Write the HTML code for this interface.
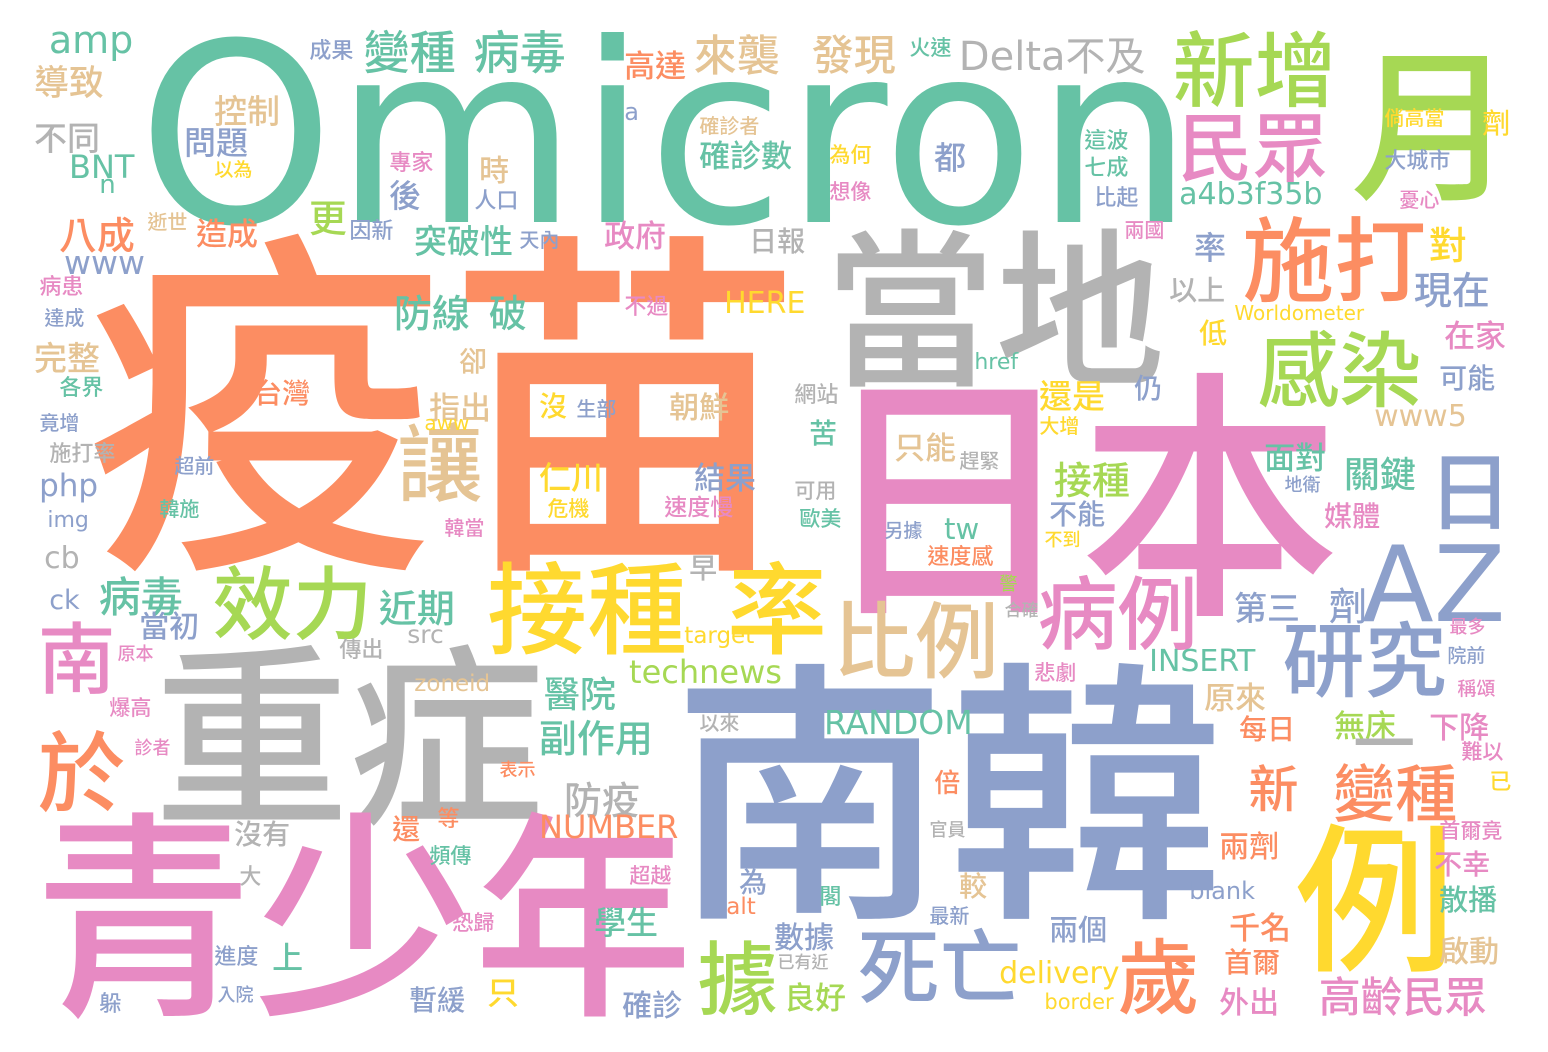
<!DOCTYPE html>
<html>
<head>
<meta charset="utf-8">
<style>
html,body{margin:0;padding:0;background:#fff;}
#cloud{position:relative;width:1548px;height:1052px;overflow:hidden;background:#fff;}
#cloud div{position:absolute;white-space:nowrap;line-height:1;}
.cjk{font-family:"Noto Sans CJK TC","WenQuanYi Zen Hei",sans-serif;font-weight:500;}
.lat{font-family:"DejaVu Sans","Liberation Sans","Noto Sans CJK TC",sans-serif;}
</style>
</head>
<body>
<div id="cloud"></div>
<script>
const palette = ["#66c2a5","#fc8d62","#8da0cb","#e78ac3","#a6d854","#ffd92f","#e5c494","#b3b3b3"];
// [text, x, y, size, colorIndex, latin]
const words = [
["Omicron",145,40,250,0,1],
["疫苗",95,228,360,1,0],
["日本",825,368,262,3,0],
["南韓",680,658,276,2,0],
["重症",160,642,195,7,0],
["青少年",40,808,220,3,0],
["當地",830,225,170,7,0],
["月",1355,45,165,4,0],
["例",1300,820,160,5,0],
["接種",490,560,100,5,0],
["率",730,560,100,5,0],
["新增",1175,30,82,4,0],
["民眾",1180,110,75,3,0],
["施打",1245,215,92,1,0],
["感染",1260,330,82,4,0],
["日",1430,450,85,2,0],
["AZ",1365,545,105,2,1],
["研究",1285,620,82,2,0],
["病例",1040,575,80,3,0],
["比例",835,600,83,6,0],
["效力",215,565,80,4,0],
["讓",400,422,85,6,0],
["據",700,940,80,4,0],
["死亡",860,927,82,2,0],
["歲",1120,937,82,1,0],
["於",40,730,88,1,0],
["南",40,620,78,3,0],
["變種",365,30,46,0,0],
["病毒",475,30,46,0,0],
["來襲",695,35,43,6,0],
["發現",813,35,42,6,0],
["Delta不及",960,42,40,7,1],
["amp",50,25,38,0,1],
["導致",35,65,35,6,0],
["成果",310,40,22,2,0],
["高達",625,50,31,1,0],
["火速",910,38,21,0,0],
["控制",215,95,33,6,0],
["問題",185,127,32,2,0],
["不同",35,122,33,7,0],
["BNT",70,155,32,0,1],
["以為",215,160,19,5,0],
["n",100,175,26,0,1],
["專家",390,152,22,3,0],
["a",625,103,24,2,1],
["時",480,155,30,6,0],
["後",390,180,32,2,0],
["人口",475,190,22,2,0],
["確診者",700,116,20,6,0],
["確診數",700,140,31,0,0],
["為何",830,145,21,5,0],
["都",935,142,32,2,0],
["想像",830,182,21,3,0],
["這波",1085,130,22,0,0],
["七成",1085,157,22,0,0],
["比起",1095,187,22,2,0],
["a4b3f35b",1180,183,30,0,1],
["倘高當",1385,108,20,5,0],
["劑",1483,110,28,5,0],
["大城市",1385,150,22,2,0],
["憂心",1400,190,20,3,0],
["更",310,200,38,4,0],
["因新",350,220,22,2,0],
["突破性",415,225,33,0,0],
["天內",520,230,20,2,0],
["政府",605,220,31,3,0],
["八成",60,217,38,1,0],
["逝世",148,212,20,6,0],
["造成",197,218,31,1,0],
["www",65,250,33,2,1],
["病患",40,276,22,3,0],
["日報",750,228,28,7,0],
["兩國",1125,220,20,3,0],
["率",1195,232,32,2,0],
["對",1430,227,38,5,0],
["現在",1415,272,38,2,0],
["以上",1170,277,28,7,0],
["防線",395,295,38,0,0],
["破",490,295,38,0,0],
["不過",625,296,22,3,0],
["HERE",725,292,30,5,1],
["Worldometer",1235,305,20,5,1],
["達成",45,308,20,2,0],
["完整",35,342,33,6,0],
["卻",460,348,28,6,0],
["href",975,355,22,0,1],
["低",1200,320,28,5,0],
["在家",1445,320,31,3,0],
["還是",1040,380,33,5,0],
["仍",1135,375,28,2,0],
["可能",1440,365,28,2,0],
["各界",60,377,22,0,0],
["台灣",255,380,28,1,0],
["網站",795,384,22,7,0],
["指出",430,392,31,6,0],
["aww",425,415,20,5,1],
["竟增",40,413,20,2,0],
["苦",810,420,28,0,0],
["www5",1375,405,30,6,1],
["施打率",50,443,22,7,0],
["超前",175,456,20,2,0],
["只能",895,432,31,6,0],
["趕緊",960,451,20,7,0],
["接種",1055,462,38,4,0],
["面對",1265,442,31,0,0],
["關鍵",1345,457,36,0,0],
["地衛",1285,476,18,2,0],
["php",40,475,31,2,1],
["韓施",160,499,20,0,0],
["可用",795,481,21,7,0],
["不能",1050,501,28,2,0],
["媒體",1325,503,28,3,0],
["img",48,513,22,2,1],
["韓當",445,518,20,3,0],
["歐美",800,509,21,0,0],
["另據",885,521,19,2,0],
["tw",945,518,29,0,1],
["不到",1045,531,18,5,0],
["cb",45,547,30,7,1],
["早",690,555,28,7,0],
["第三",1235,592,33,2,0],
["劑",1330,588,38,2,0],
["病毒",100,577,42,0,0],
["當初",140,611,30,2,0],
["ck",50,590,27,2,1],
["近期",380,590,38,0,0],
["target",685,628,23,5,1],
["傳出",340,639,22,7,0],
["src",408,625,25,7,1],
["警",1000,575,18,4,0],
["合確",1005,601,17,7,0],
["最多",1450,618,18,3,0],
["原本",118,645,18,3,0],
["院前",1448,646,19,2,0],
["醫院",545,677,36,0,0],
["technews",630,660,32,4,1],
["zoneid",415,676,23,6,1],
["悲劇",1035,663,21,3,0],
["INSERT",1150,650,30,0,1],
["原來",1205,682,31,6,0],
["稱頌",1458,679,19,3,0],
["爆高",110,698,21,3,0],
["副作用",540,720,38,0,0],
["以來",700,713,20,7,0],
["RANDOM",825,710,33,0,1],
["每日",1240,716,28,1,0],
["無床",1335,710,31,4,0],
["下降",1430,712,30,3,0],
["一",1355,712,62,7,0],
["診者",135,739,18,3,0],
["難以",1462,742,21,3,0],
["表示",500,761,18,1,0],
["新",1250,764,50,1,0],
["變種",1335,762,62,1,0],
["防疫",565,782,38,7,0],
["倍",935,771,26,1,0],
["已",1490,771,22,5,0],
["NUMBER",540,815,32,1,1],
["沒有",235,821,28,7,0],
["還",393,816,28,1,0],
["等",438,808,22,1,0],
["官員",930,821,18,7,0],
["首爾竟",1440,821,21,3,0],
["兩劑",1220,831,30,1,0],
["頻傳",430,846,21,0,0],
["不幸",1435,851,28,3,0],
["大",240,866,22,7,0],
["為",740,869,28,2,0],
["較",960,873,28,6,0],
["超越",630,866,21,3,0],
["blank",1190,882,24,2,1],
["散播",1440,886,29,0,0],
["恐歸",453,913,21,3,0],
["alt",727,899,23,1,1],
["閣",820,886,22,0,0],
["學生",595,907,32,0,0],
["最新",930,906,20,2,0],
["千名",1230,912,31,1,0],
["兩個",1050,916,29,2,0],
["數據",775,922,30,2,0],
["進度",215,946,22,2,0],
["上",273,942,31,0,0],
["已有近",778,953,17,7,0],
["首爾",1225,949,28,1,0],
["啟動",1440,936,30,6,0],
["delivery",1000,962,30,5,1],
["入院",218,986,18,2,0],
["暫緩",410,987,28,2,0],
["只",488,977,32,5,0],
["良好",785,982,31,4,0],
["確診",623,990,30,2,0],
["外出",1220,987,30,3,0],
["高齡民眾",1320,977,42,3,0],
["border",1045,994,21,5,1],
["躲",100,993,22,2,0],
["沒",540,393,28,5,0],
["生部",577,399,20,2,0],
["朝鮮",670,392,30,6,0],
["仁川",540,462,32,5,0],
["危機",548,499,21,5,0],
["結果",695,462,31,2,0],
["速度慢",665,496,23,3,0],
["速度感",928,546,22,1,0],
["大增",1040,416,20,5,0]
];
const cloud = document.getElementById('cloud');
words.forEach(function(w){
  const el = document.createElement('div');
  
  
  el.className = w[5] ? 'lat' : 'cjk';
  el.textContent = w[0];
  const s = w[3];
  const topOff = w[5] ? 0.116*s : 0.07*s;
  el.style.left = (w[1] - 0.03*s) + 'px';
  el.style.top = (w[2] - topOff) + 'px';
  el.style.fontSize = s + 'px';
  el.style.color = palette[w[4]];
  cloud.appendChild(el);
});
</script>
</body>
</html>
